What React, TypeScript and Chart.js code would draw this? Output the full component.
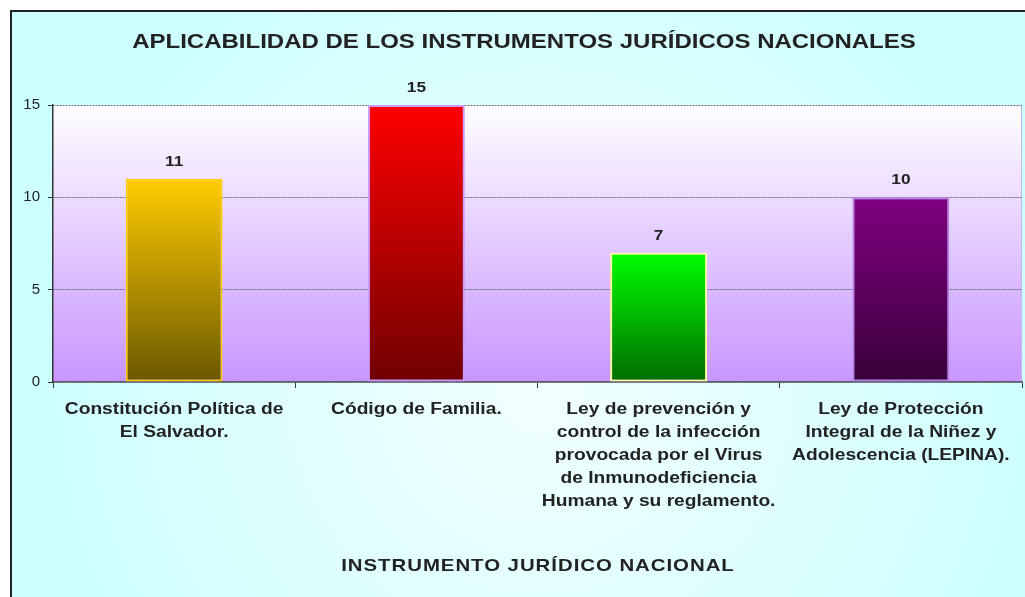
import React, { useEffect, useRef } from "react";
import { Chart, registerables } from "chart.js";

Chart.register(...registerables);

const categories: string[][] = [
  ["Constitución Política de", "El Salvador."],
  ["Código de Familia."],
  [
    "Ley de prevención y",
    "control de la infección",
    "provocada por el Virus",
    "de Inmunodeficiencia",
    "Humana y su reglamento.",
  ],
  ["Ley de Protección", "Integral de la Niñez y", "Adolescencia (LEPINA)."],
];
const values = [11, 15, 7, 10];
const topColors = ["#FFCC00", "#FF0000", "#00FF00", "#800080"];
const bottomColors = ["#6B5800", "#700000", "#006C00", "#38003A"];
const borderColors = ["#FFCC00", "#CC99FF", "#FFFF99", "#B380E6"];
const yMin = 0;
const yMax = 15;
const yStep = 5;
const chartTitle = "APLICABILIDAD DE LOS INSTRUMENTOS JURÍDICOS NACIONALES";
const xAxisTitle = "INSTRUMENTO JURÍDICO NACIONAL";

const FONT = "'Liberation Sans', Arial, Helvetica, sans-serif";
const W = 1025;
const H = 597;
const STRETCH = 1.2;

function drawStretched(
  ctx: CanvasRenderingContext2D,
  text: string,
  x: number,
  y: number,
  font: string,
  sx: number,
  spacing = 0
) {
  ctx.save();
  ctx.translate(x, y);
  ctx.scale(sx, 1);
  ctx.font = font;
  (ctx as any).letterSpacing = `${spacing}px`;
  ctx.textAlign = "center";
  ctx.textBaseline = "middle";
  ctx.fillStyle = "#222222";
  ctx.fillText(text, spacing / 2, 0);
  ctx.restore();
}

const backgroundPlugin = {
  id: "bgPlugin",
  beforeDraw(chart: any) {
    const { ctx, width, height, chartArea } = chart;
    ctx.save();
    ctx.fillStyle = "#FFFFFF";
    ctx.fillRect(0, 0, width, height);
    const g = ctx.createRadialGradient(540, 390, 0, 540, 390, 520);
    g.addColorStop(0, "#F2FFFF");
    g.addColorStop(1, "#CCFFFF");
    ctx.fillStyle = g;
    ctx.fillRect(10, 10, width - 10, height - 10);
    ctx.fillStyle = "#222222";
    ctx.fillRect(10, 10, 2, height - 10);
    ctx.fillRect(10, 10, width - 10, 2);
    if (chartArea) {
      const pg = ctx.createLinearGradient(0, chartArea.top, 0, chartArea.bottom);
      pg.addColorStop(0, "#FFFFFF");
      pg.addColorStop(1, "#C896FF");
      ctx.fillStyle = pg;
      ctx.fillRect(chartArea.left, chartArea.top, chartArea.right - chartArea.left, chartArea.bottom - chartArea.top);
      ctx.strokeStyle = "#C8B4F0";
      ctx.lineWidth = 1;
      ctx.beginPath();
      ctx.moveTo(chartArea.right - 0.5, chartArea.top);
      ctx.lineTo(chartArea.right - 0.5, chartArea.bottom);
      ctx.stroke();
    }
    ctx.restore();
  },
};

const textPlugin = {
  id: "textPlugin",
  afterDraw(chart: any) {
    const { ctx, chartArea } = chart;
    drawStretched(ctx, chartTitle, 524, 42, `bold 20px ${FONT}`, STRETCH);
    const xs = chart.scales.x;
    const lineH = 23;
    categories.forEach((lines, i) => {
      const cx = xs.getPixelForTick(i);
      lines.forEach((line, j) => {
        drawStretched(ctx, line, cx, chartArea.bottom + 28 + j * lineH, `bold 16px ${FONT}`, STRETCH);
      });
    });
    drawStretched(
      ctx,
      xAxisTitle,
      (chartArea.left + chartArea.right) / 2,
      566,
      `bold 17px ${FONT}`,
      STRETCH,
      0.8
    );
    const meta = chart.getDatasetMeta(0);
    meta.data.forEach((bar: any, i: number) => {
      drawStretched(ctx, String(values[i]), bar.x, bar.y - 17, `bold 15px ${FONT}`, 1.15);
    });
  },
};

export default function App() {
  const canvasRef = useRef<HTMLCanvasElement | null>(null);

  useEffect(() => {
    if (!canvasRef.current) return;
    const chart = new Chart(canvasRef.current, {
      type: "bar",
      data: {
        labels: categories.map((c) => c.join(" ")),
        datasets: [
          {
            data: values,
            backgroundColor: (c: any) => {
              const i = c.dataIndex;
              if (i === undefined) return topColors[0];
              const chartObj = c.chart;
              const ys = chartObj.scales?.y;
              if (!ys || !chartObj.chartArea) return topColors[i];
              const top = ys.getPixelForValue(values[i]);
              const bottom = ys.getPixelForValue(0);
              const g = chartObj.ctx.createLinearGradient(0, top, 0, bottom);
              g.addColorStop(0, topColors[i]);
              g.addColorStop(1, bottomColors[i]);
              return g;
            },
            borderColor: borderColors,
            borderWidth: 2,
            borderSkipped: false,
            categoryPercentage: 1,
            barPercentage: 0.4,
          },
        ],
      },
      options: {
        responsive: false,
        animation: false,
        events: [],
        layout: { padding: { left: 0, right: 3, top: 105, bottom: 0 } },
        plugins: {
          legend: { display: false },
          tooltip: { enabled: false },
          title: { display: false },
        },
        scales: {
          x: {
            afterFit: (s: any) => {
              s.height = 215;
            },
            grid: {
              offset: true,
              drawOnChartArea: false,
              drawTicks: true,
              tickLength: 6,
              color: "#333333",
            },
            border: { display: true, color: "#5A5A6A", width: 1.5 },
            ticks: { display: false, autoSkip: false, maxRotation: 0 },
            title: { display: false },
          },
          y: {
            min: yMin,
            max: yMax,
            afterFit: (s: any) => {
              s.width = 53;
            },
            grid: {
              color: "#6E6E80",
              lineWidth: 1,
              drawTicks: true,
              tickLength: 5,
              tickColor: "#333333",
            },
            border: { display: true, color: "#333333", width: 1.5, dash: [2, 1] },
            ticks: {
              stepSize: yStep,
              color: "#222222",
              font: { family: FONT, size: 15 },
              padding: 8,
            },
          },
        },
      },
      plugins: [backgroundPlugin, textPlugin],
    } as any);
    return () => chart.destroy();
  }, []);

  return (
    <div style={{ position: "fixed", left: 0, top: 0, width: W, height: H, background: "#FFFFFF" }}>
      <canvas ref={canvasRef} width={W} height={H} style={{ display: "block" }} />
    </div>
  );
}
